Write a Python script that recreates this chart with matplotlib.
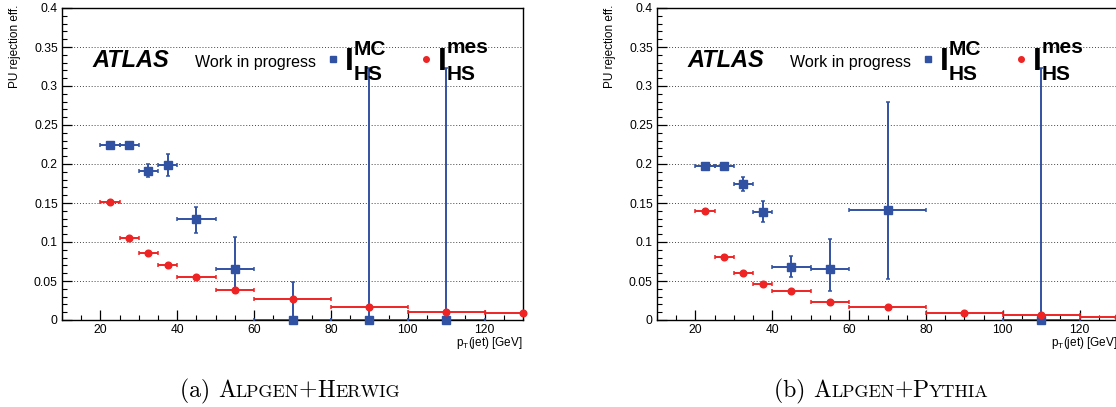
import numpy as np
import matplotlib
matplotlib.use("Agg")
import matplotlib.pyplot as plt
from matplotlib.ticker import MultipleLocator, FuncFormatter

plt.rcParams['font.family'] = ['Liberation Sans', 'DejaVu Sans']

# pT bins [GeV]
bin_lo = np.array([20, 25, 30, 35, 40, 50, 60, 80, 100, 120])
bin_hi = np.array([25, 30, 35, 40, 50, 60, 80, 100, 120, 140])
centers = (bin_lo + bin_hi) / 2.0
half_w = (bin_hi - bin_lo) / 2.0

# (a) Alpgen+Herwig
herwig_mc_idx = [0, 1, 2, 3, 4, 5, 6, 7, 8]
herwig_mc = [0.225, 0.224, 0.191, 0.199, 0.129, 0.066, 0.0, 0.0, 0.0]
herwig_mc_up = [0.002, 0.003, 0.009, 0.014, 0.016, 0.041, 0.049, 0.323, 0.323]
herwig_mc_dn = [0.002, 0.003, 0.008, 0.014, 0.017, 0.032, 0.0, 0.0, 0.0]
herwig_mes = [0.151, 0.105, 0.0855, 0.070, 0.055, 0.0385, 0.0273, 0.0167, 0.0103, 0.0085]
herwig_mes_err = [0.002, 0.002, 0.002, 0.002, 0.002, 0.002, 0.001, 0.001, 0.001, 0.001]

# (b) Alpgen+Pythia
pythia_mc_idx = [0, 1, 2, 3, 4, 5, 6, 8]
pythia_mc = [0.1975, 0.197, 0.174, 0.139, 0.068, 0.0655, 0.1405, 0.0]
pythia_mc_up = [0.002, 0.003, 0.009, 0.013, 0.0145, 0.0385, 0.1385, 0.323]
pythia_mc_dn = [0.002, 0.003, 0.009, 0.013, 0.013, 0.0285, 0.0885, 0.0]
pythia_mes = [0.140, 0.0812, 0.0598, 0.0466, 0.0376, 0.0235, 0.0162, 0.0085, 0.006, 0.0043]
pythia_mes_err = [0.002, 0.002, 0.002, 0.002, 0.001, 0.001, 0.001, 0.001, 0.001, 0.001]

blue = '#3152a3'
red = '#ee2424'

W, H = 1116, 407
fig = plt.figure(figsize=(W / 100, H / 100), dpi=100)

AX_W, AX_H = 461, 312
AX_TOP = 8


def to_ax(x0, x, y):
    # pixel position in figure -> axes fraction
    return ((x - x0) / AX_W, (AX_TOP + AX_H - y) / AX_H)


def draw_panel(x0, mc_idx, mc, mc_up, mc_dn, mes, mes_err):
    ax = fig.add_axes([x0 / W, (H - AX_TOP - AX_H) / H, AX_W / W, AX_H / H])
    ax.set_xlim(10, 130)
    ax.set_ylim(0, 0.4)

    idx = np.array(mc_idx)
    for xs, ys, xe, ye, c, m, ms in [
        (centers[idx], mc, half_w[idx], [mc_dn, mc_up], blue, 's', 5.5),
        (centers, mes, half_w, [mes_err, mes_err], red, 'o', 4.8),
    ]:
        line, caps, bars = ax.errorbar(xs, ys, xerr=xe, yerr=ye, fmt=m, color=c,
                                       ms=ms, elinewidth=1.4, capsize=1.6,
                                       capthick=1.1, zorder=3)
        line.set_clip_on(False)

    ax.xaxis.set_major_locator(MultipleLocator(20))
    ax.xaxis.set_minor_locator(MultipleLocator(5))
    ax.yaxis.set_major_locator(MultipleLocator(0.05))
    ax.yaxis.set_minor_locator(MultipleLocator(0.01))
    ax.yaxis.set_major_formatter(FuncFormatter(lambda v, p: '%g' % round(v, 3)))
    ax.set_xticks([20, 40, 60, 80, 100, 120])
    ax.tick_params(which='both', direction='in', top=False, right=False)
    ax.tick_params(which='major', length=7, width=0.9, labelsize=8.7, pad=3)
    ax.tick_params(which='minor', length=3.5, width=0.8)
    ax.grid(axis='y', which='major', linestyle=(0, (1, 2)), color='#444444', lw=0.7)
    for s in ax.spines.values():
        s.set_linewidth(1.0)
    ax.set_axisbelow(True)

    kw = dict(transform=ax.transAxes, clip_on=False)
    ax.text(*to_ax(x0, x0 + 30, 67), 'ATLAS', fontsize=17, fontweight='bold',
            fontstyle='italic', ha='left', va='baseline', **kw)
    ax.text(*to_ax(x0, x0 + 133, 62), 'Work in progress', fontsize=11.5,
            ha='left', va='center', **kw)

    ax.plot(*to_ax(x0, x0 + 271, 59), 's', color=blue, ms=4, **kw)
    ax.text(*to_ax(x0, x0 + 283, 70), 'I', fontsize=23, fontweight='bold',
            ha='left', va='baseline', **kw)
    ax.text(*to_ax(x0, x0 + 292, 55), 'MC', fontsize=15, fontweight='bold',
            ha='left', va='baseline', **kw)
    ax.text(*to_ax(x0, x0 + 292, 80), 'HS', fontsize=15, fontweight='bold',
            ha='left', va='baseline', **kw)

    ax.plot(*to_ax(x0, x0 + 364, 59), 'o', color=red, ms=4, **kw)
    ax.text(*to_ax(x0, x0 + 376, 70), 'I', fontsize=23, fontweight='bold',
            ha='left', va='baseline', **kw)
    ax.text(*to_ax(x0, x0 + 385, 53), 'mes', fontsize=15, fontweight='bold',
            ha='left', va='baseline', **kw)
    ax.text(*to_ax(x0, x0 + 385, 80), 'HS', fontsize=15, fontweight='bold',
            ha='left', va='baseline', **kw)

    fig.text((x0 + AX_W) / W, (H - 343) / H, r'p$_{\mathregular{T}}$(jet) [GeV]',
             fontsize=8.5, ha='right', va='center')
    fig.text((x0 - 47) / W, (H - 5) / H, 'PU rejection eff.', fontsize=8.5,
             rotation=90, ha='center', va='top')
    return ax


draw_panel(62, herwig_mc_idx, herwig_mc, herwig_mc_up, herwig_mc_dn,
           herwig_mes, herwig_mes_err)
draw_panel(657, pythia_mc_idx, pythia_mc, pythia_mc_up, pythia_mc_dn,
           pythia_mes, pythia_mes_err)


def caption(x, pieces, big=17, small=13):
    # pieces: (text, is_small) - fake small caps
    t = None
    for text, is_small in pieces:
        size = small if is_small else big
        if t is None:
            t = fig.text(x / W, 10 / H, text, fontsize=size, family='cmr10',
                         ha='left', va='baseline')
        else:
            t = fig.axes[0].annotate(text, xy=(1, 10 / H),
                                     xycoords=(t, 'figure fraction'),
                                     fontsize=size, family='cmr10', ha='left',
                                     va='baseline', annotation_clip=False)


caption(180, [('(a) ', False), ('A', False), ('LPGEN', True), ('+', False),
              ('H', False), ('ERWIG', True)])
caption(774, [('(b) ', False), ('A', False), ('LPGEN', True), ('+', False),
              ('P', False), ('YTHIA', True)])

fig.savefig('out.png', dpi=100)
